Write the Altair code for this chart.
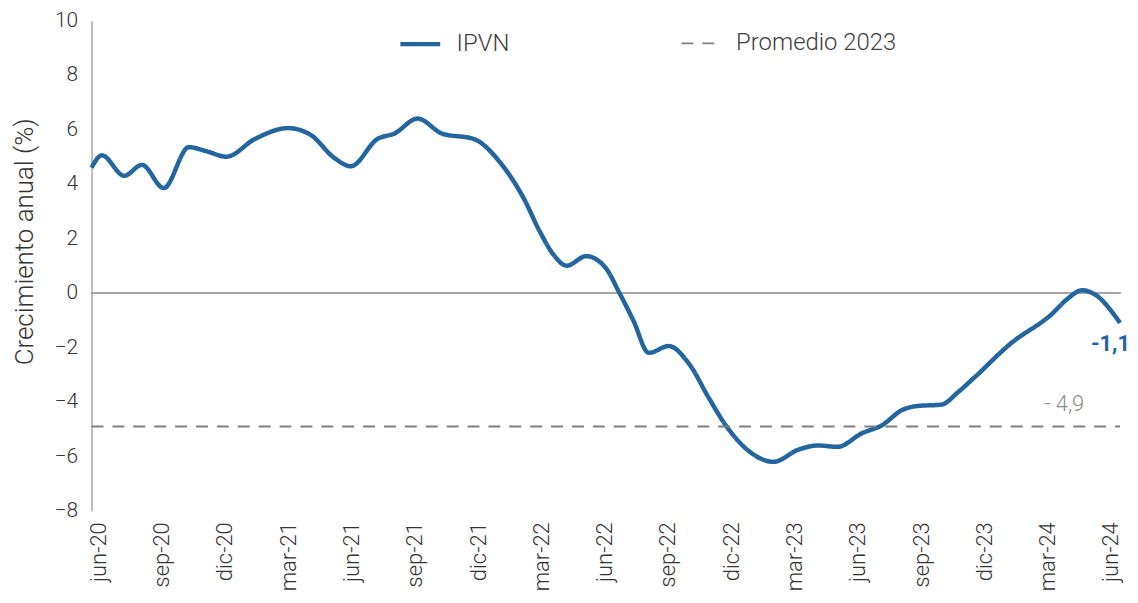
import altair as alt
import pandas as pd

# ---- data ----
dates = [
    "2020-05-22", "2020-06-06", "2020-07-08", "2020-08-03", "2020-09-04", "2020-10-10",
    "2020-11-05", "2020-12-03", "2021-01-14", "2021-03-01", "2021-04-03", "2021-05-07",
    "2021-05-31", "2021-07-08", "2021-08-02", "2021-09-05", "2021-10-10", "2021-11-25",
    "2022-01-02", "2022-02-06", "2022-02-27", "2022-03-19", "2022-04-07", "2022-05-05",
    "2022-06-03", "2022-06-22", "2022-07-12", "2022-08-04", "2022-09-02", "2022-10-01",
    "2022-10-30", "2022-11-23", "2023-01-01", "2023-02-01", "2023-03-07", "2023-04-05",
    "2023-05-02", "2023-06-07", "2023-07-06", "2023-08-04", "2023-08-27", "2023-09-30",
    "2023-10-24", "2023-11-17", "2024-01-09", "2024-03-06", "2024-03-31", "2024-04-20",
    "2024-05-08", "2024-06-14",
]
ipvn = [
    4.6, 5.05, 4.3, 4.7, 3.85, 5.35,
    5.2, 5.0, 5.65, 6.05, 5.8, 4.95,
    4.65, 5.65, 5.85, 6.4, 5.85, 5.65,
    4.8, 3.45, 2.25, 1.4, 1.0, 1.35,
    0.9, 0.0, -1.0, -2.2, -1.95, -2.6,
    -3.85, -4.85, -5.9, -6.2, -5.75, -5.6,
    -5.65, -5.15, -4.85, -4.3, -4.15, -4.1,
    -3.65, -3.1, -1.85, -0.8, -0.2, 0.1,
    -0.05, -1.1,
]
avg_2023 = -4.9
tick_labels = ["jun-20", "sep-20", "dic-20", "mar-21", "jun-21", "sep-21", "dic-21",
               "mar-22", "jun-22", "sep-22", "dic-22", "mar-23", "jun-23", "sep-23",
               "dic-23", "mar-24", "jun-24"]
series_names = ["IPVN", "Promedio 2023"]
end_label = "-1,1"
avg_label = "- 4,9"


def month_offset(s):
    d = pd.Timestamp(s)
    return (d.year - 2020) * 12 + (d.month - 6) + (d.day - 1) / d.days_in_month


m_vals = [month_offset(d) for d in dates]
x_min, x_max = m_vals[0], m_vals[-1]

main = pd.DataFrame({"m": m_vals, "v": ipvn, "serie": series_names[0]})
avg = pd.DataFrame({"m": [x_min, x_max], "v": [avg_2023, avg_2023], "serie": series_names[1]})
lines = pd.concat([main, avg], ignore_index=True)

end_df = pd.DataFrame({"m": [x_max], "v": [ipvn[-1]], "t": [end_label]})
avg_df = pd.DataFrame({"m": [x_max], "v": [avg_2023], "t": [avg_label]})

FONT = "Roboto"
TXT = "#333333"
label_expr = "[" + ",".join(f"'{l}'" for l in tick_labels) + "][round(datum.value/3)]"

xscale = alt.Scale(domain=[x_min, x_max], nice=False, zero=False)
yscale = alt.Scale(domain=[-8, 10], nice=False)

x_enc = alt.X("m:Q", scale=xscale, axis=alt.Axis(
    values=list(range(0, 3 * (len(tick_labels) - 1) + 1, 3)), labelExpr=label_expr,
    labelAngle=270, domain=False, ticks=False, grid=False, title=None, labelFontSize=22,
    labelFont=FONT, labelFontWeight=300, labelColor=TXT, labelPadding=11))
y_enc = alt.Y("v:Q", scale=yscale, axis=alt.Axis(
    values=list(range(-8, 11, 2)), domain=True, domainColor="#A6A6A6", domainWidth=1.5,
    ticks=False, grid=False, title="Crecimiento anual (%)", titleFontSize=26,
    titleFont=FONT, titleFontWeight=300, titleColor=TXT, titlePadding=17, titleY=222,
    labelFontSize=21, labelFont=FONT, labelFontWeight=300, labelColor=TXT,
    labelPadding=14))

zero = alt.Chart(main).mark_rule(color="#A6A6A6", strokeWidth=1.5).encode(y=alt.datum(0))

leg = dict(orient="none", legendX=308, legendY=1, direction="horizontal", title=None,
           labelFontSize=24, labelFont=FONT, labelFontWeight=300, labelColor="#404040",
           labelLimit=400, symbolType="stroke", symbolSize=1600, labelOffset=14,
           columnPadding=168)

line = alt.Chart(lines).mark_line(interpolate="monotone").encode(
    x=x_enc, y=y_enc,
    color=alt.Color("serie:N", scale=alt.Scale(domain=series_names, range=["#22659F", "#7F7F7F"]),
                    legend=alt.Legend(**leg)),
    strokeDash=alt.StrokeDash("serie:N", scale=alt.Scale(domain=series_names, range=[[1, 0], [12, 9]]),
                              legend=alt.Legend(**leg)),
    strokeWidth=alt.StrokeWidth("serie:N", scale=alt.Scale(domain=series_names, range=[4.5, 2]),
                                legend=alt.Legend(**leg)),
)

end_text = alt.Chart(end_df).mark_text(
    align="right", baseline="middle", dx=10, dy=21, fontSize=22, fontWeight="bold",
    font=FONT, color="#22659F").encode(x="m:Q", y="v:Q", text="t:N")

avg_text = alt.Chart(avg_df).mark_text(
    align="right", baseline="middle", dx=-36, dy=-23, fontSize=22, fontWeight=300,
    font=FONT, color="#8C8C8C").encode(x="m:Q", y="v:Q", text="t:N")

chart = alt.layer(zero, line, end_text, avg_text).properties(
    width=1034, height=493,
    padding={"left": 3, "top": 0, "right": 0, "bottom": 0},
).configure_view(stroke=None)

chart.save("out.html", embed_options={"renderer": "svg", "actions": False})
